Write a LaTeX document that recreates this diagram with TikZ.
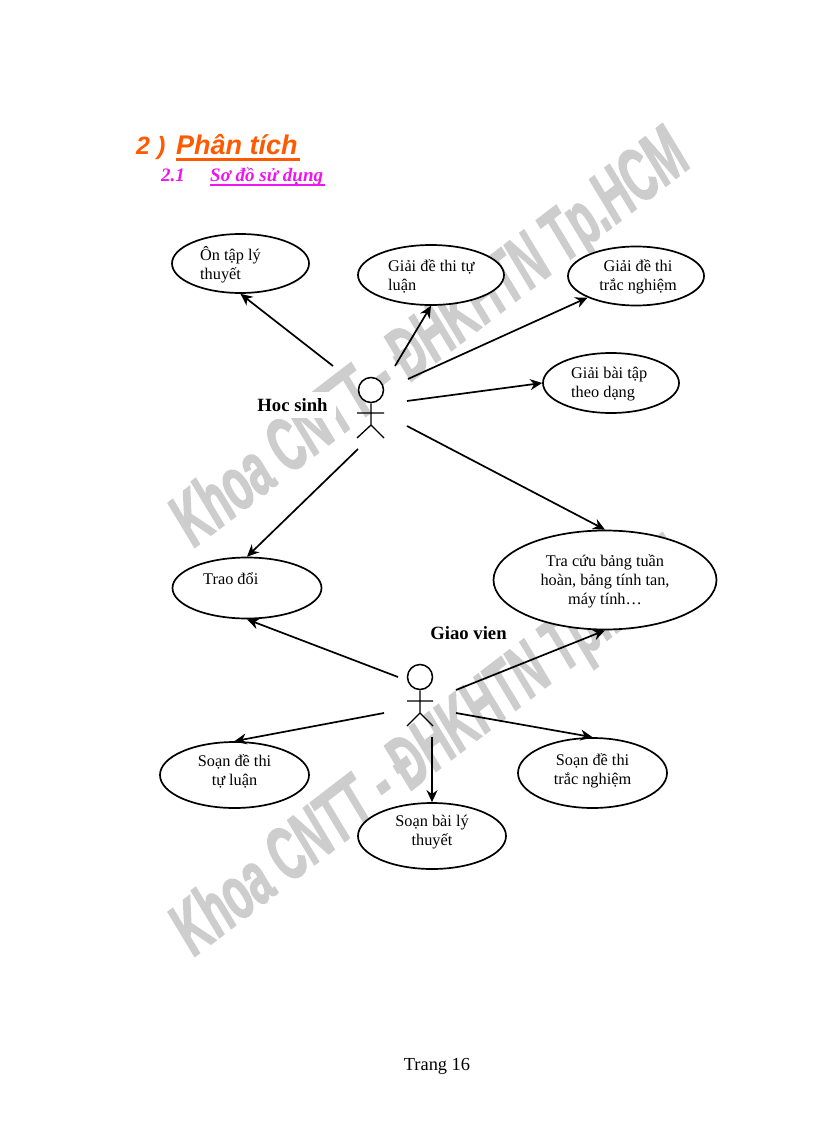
\documentclass[tikz,border=0pt]{standalone}
\usepackage{fontspec}
\setmainfont{Liberation Serif}
\newfontfamily\hsans{Liberation Sans}
\newfontfamily\wmfont[UprightFont=* Bold Italic,FakeBold=2.5]{Liberation Sans}
\usetikzlibrary{arrows.meta,shapes.geometric}
\definecolor{wm}{RGB}{205,205,205}
\definecolor{heador}{RGB}{255,90,0}
\definecolor{headmg}{RGB}{240,20,240}
\tikzset{
 usecase/.style={ellipse,draw=black,line width=1.7pt,fill=white,inner sep=0pt,minimum width=#1},
 ucsize/.style={minimum height=#1},
 lab/.style={font=\fontsize{16.3}{19}\selectfont,align=#1,inner sep=0pt,text=black},
 actorlabel/.style={font=\fontsize{18.7}{20}\selectfont\bfseries,inner xsep=8pt,inner ysep=6pt,fill=white,text=black},
 conn/.style={line width=1.7pt,draw=black,-{Stealth[length=12pt,width=11pt]}},
 stick/.style={line width=1.3pt,draw=black},
 head/.style={circle,draw=black,line width=1.5pt,minimum size=25pt,inner sep=0pt,fill=white},
 watermark/.style={font=\wmfont\fontsize{62}{62}\selectfont,text=wm,rotate=37.5,inner sep=0pt,xscale=0.695,yscale=1.2},
}
\begin{document}
\begin{tikzpicture}[x=1pt,y=-1pt]
\useasboundingbox (0,0) rectangle (816,1123);
\fill[white] (0,0) rectangle (816,1123);
% watermarks
\node[watermark] (w1) at (432,341) {Khoa CNTT - ĐHKHTN Tp.HCM};
\node[watermark] (w2) at (432,750) {Khoa CNTT - ĐHKHTN Tp.HCM};
% headings
\node[anchor=base west,inner sep=0pt,font=\hsans\bfseries\itshape\fontsize{25}{25}\selectfont,text=heador] (h1) at (136,155) {2 )};
\node[anchor=base west,inner sep=0pt,font=\hsans\bfseries\itshape\fontsize{27}{27}\selectfont,text=heador] (h2) at (176,155) {Phân tích};
\draw[heador,line width=2.6pt] (h2.base west)++(0,4.5) -- (300,159.5);
\node[anchor=base west,inner sep=0pt,font=\bfseries\itshape\fontsize{19}{19}\selectfont,text=headmg] (h3) at (161,182) {2.1};
\node[anchor=base west,inner sep=0pt,font=\bfseries\itshape\fontsize{19}{19}\selectfont,text=headmg] (h4) at (210,182) {Sơ đồ sử dụng};
\draw[headmg,line width=1.5pt] (h4.base west)++(0,3) -- (325,185);
% use cases
\node[usecase=137pt,ucsize=59pt] (e1) at (240.5,263.5) {};
\node[usecase=146pt,ucsize=60pt] (e2) at (431,275) {};
\node[usecase=136pt,ucsize=59pt] (e3) at (636,276) {};
\node[usecase=136pt,ucsize=60pt] (e4) at (611,383) {};
\node[usecase=149pt,ucsize=61pt] (e5) at (247,588) {};
\node[usecase=223pt,ucsize=99pt] (e6) at (605,580) {};
\node[usecase=149pt,ucsize=66pt] (e7) at (234.5,775) {};
\node[usecase=149pt,ucsize=70pt] (e8) at (592.5,773) {};
\node[usecase=148pt,ucsize=66pt] (e9) at (432,836) {};
% use case labels
\node[lab=left,anchor=north west] (t1) at (200,246) {Ôn tập lý\\thuyết};
\node[lab=left,anchor=north west] (t2) at (388,259) {Giải đề thi tự\\luận};
\node[lab=center] (t3) at (638,277) {Giải đề thi\\trắc nghiệm};
\node[lab=left,anchor=north west] (t4) at (571,367) {Giải bài tập\\theo dạng};
\node[lab=left,anchor=north west] (t5) at (203,572) {Trao đổi};
\node[lab=center] (t6) at (605,581) {Tra cứu bảng tuần\\hoàn, bảng tính tan,\\máy tính…};
\node[lab=center] (t7) at (234.5,771) {Soạn đề thi\\tự luận};
\node[lab=center] (t8) at (592.5,771) {Soạn đề thi\\trắc nghiệm};
\node[lab=center] (t9) at (432,832) {Soạn bài lý\\thuyết};
% actor labels
\node[actorlabel] (n1) at (292.5,405) {Hoc sinh};
\node[actorlabel] (n2) at (468.5,633) {Giao vien};
% actor 1
\node[head] (hd1) at (371,390) {};
\coordinate (hip1) at (371,425);
\coordinate (la1) at (357,413);
\coordinate (ra1) at (384,413);
\coordinate (ll1) at (357,438);
\coordinate (rl1) at (384,438);
\draw[stick] (hd1) -- (hip1) (la1) -- (ra1) (ll1) -- (hip1) -- (rl1);
% actor 2
\node[head] (hd2) at (420,677) {};
\coordinate (hip2) at (420,713);
\coordinate (la2) at (407,701);
\coordinate (ra2) at (433,701);
\coordinate (ll2) at (407,726);
\coordinate (rl2) at (433,726);
\draw[stick] (hd2) -- (hip2) (la2) -- (ra2) (ll2) -- (hip2) -- (rl2);
% connector free ends
\coordinate (sa) at (333,366);
\coordinate (sb) at (395,366);
\coordinate (sc) at (408,379);
\coordinate (sd) at (407,401);
\coordinate (se) at (407,426);
\coordinate (sf) at (358,449);
\coordinate (sg) at (398,677);
\coordinate (sh) at (456,690);
\coordinate (si) at (384,713);
\coordinate (sj) at (456,713);
\coordinate (sk) at (432,737);
% connectors
\draw[conn] (sa) -- (e1.south);
\draw[conn] (sb) -- (e2.south);
\draw[conn] (sc) -- (e3.-156);
\draw[conn] (sd) -- (e4.180);
\draw[conn] (se) -- (e6.north);
\draw[conn] (sf) -- (e5.north);
\draw[conn] (sg) -- (e5.south);
\draw[conn] (sh) -- (e6.south);
\draw[conn] (si) -- (e7.north);
\draw[conn] (sj) -- (e8.north);
\draw[conn] (sk) -- (e9.north);
% footer
\node[font=\fontsize{18.4}{20}\selectfont,inner sep=0pt] (pg) at (437,1066) {Trang 16};
\end{tikzpicture}
\end{document}
